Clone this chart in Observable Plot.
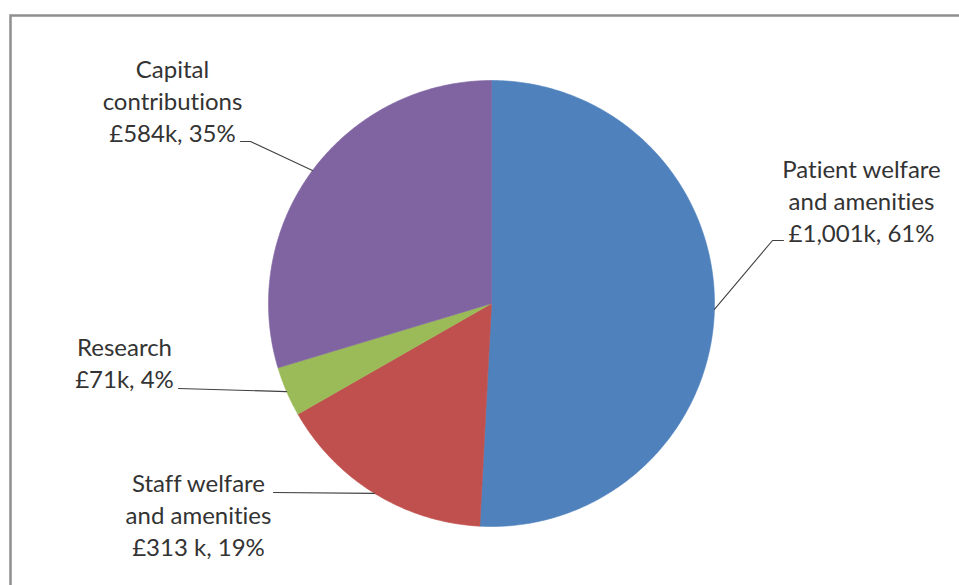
<!DOCTYPE html>
<html>
<head>
<meta charset="utf-8">
<script src="https://cdn.jsdelivr.net/npm/d3@7"></script>
<script src="https://cdn.jsdelivr.net/npm/@observablehq/plot@0.6"></script>
<style>
  html, body { margin: 0; padding: 0; background: #fff; }
  #chart svg { display: block; }
  #chart svg text { font-variant-ligatures: none; font-feature-settings: "liga" 0, "clig" 0; }
</style>
</head>
<body>
<div id="chart"></div>
<script>
// ---- data ----
const categories = ["Patient welfare and amenities", "Staff welfare and amenities", "Research", "Capital contributions"];
const values = [1001, 313, 71, 584];
const nameLines = [["Patient welfare", "and amenities"], ["Staff welfare", "and amenities"], ["Research"], ["Capital", "contributions"]];
const amountLabels = ["£1,001k", "£313 k", "£71k", "£584k"];
const percentLabels = ["61%", "19%", "4%", "35%"];

// ---- styles / layout (not data) ----
const colors = ["#4F81BD", "#C0504D", "#9BBB59", "#8064A2"];
const W = 959, H = 585;
const cx = 491, cy = 303, R = 223;
// label block centre and leader elbow points, in pixel offsets from pie centre (y up)
const labelLayout = [
  {tx: 370, ty: 104, elbow: [[281, 63], [292, 63]]},
  {tx: -293, ty: -210, elbow: [[-218, -189]]},
  {tx: -367, ty: -58, elbow: [[-313, -85]]},
  {tx: -319, ty: 204, elbow: [[-241, 162], [-251, 162]]}
];

const arcs = d3.pie().sort(null).value(d => d)(values);

const sliceMarks = arcs.map((a, i) => {
  const pts = [{x: 0, y: 0}];
  const n = Math.max(2, Math.ceil((a.endAngle - a.startAngle) / (Math.PI / 360)));
  for (let k = 0; k <= n; k++) {
    const t = a.startAngle + (a.endAngle - a.startAngle) * k / n;
    pts.push({x: R * Math.sin(t), y: R * Math.cos(t)});
  }
  pts.push({x: 0, y: 0});
  return Plot.line(pts, {x: "x", y: "y", fill: colors[i], stroke: colors[i], strokeWidth: 0.6, curve: "linear"});
});

const leaderMarks = arcs.map((a, i) => {
  const m = (a.startAngle + a.endAngle) / 2;
  const pts = [{x: R * Math.sin(m), y: R * Math.cos(m)}, ...labelLayout[i].elbow.map(([x, y]) => ({x, y}))];
  return Plot.line(pts, {x: "x", y: "y", stroke: "#404040", strokeWidth: 1.1});
});

const labels = categories.map((c, i) => ({
  x: labelLayout[i].tx,
  y: labelLayout[i].ty,
  text: [...nameLines[i], `${amountLabels[i]}, ${percentLabels[i]}`].join("\n")
}));

const chart = Plot.plot({
  width: W,
  height: H,
  margin: 0,
  x: {domain: [-cx, W - cx], range: [0, W], axis: null},
  y: {domain: [-(H - cy), cy], range: [H, 0], axis: null},
  style: {background: "#fff"},
  marks: [
    Plot.frame({stroke: "#8f8f8f", strokeWidth: 2.5, insetLeft: 10, insetTop: 15, insetRight: -10, insetBottom: -10}),
    ...sliceMarks,
    ...leaderMarks,
    Plot.text(labels, {
      x: "x", y: "y", text: "text",
      fontFamily: "Lato", fontSize: 24, lineHeight: 1.333,
      fill: "#333333", textAnchor: "middle", lineAnchor: "middle"
    })
  ]
});
document.getElementById("chart").appendChild(chart);
</script>
</body>
</html>
